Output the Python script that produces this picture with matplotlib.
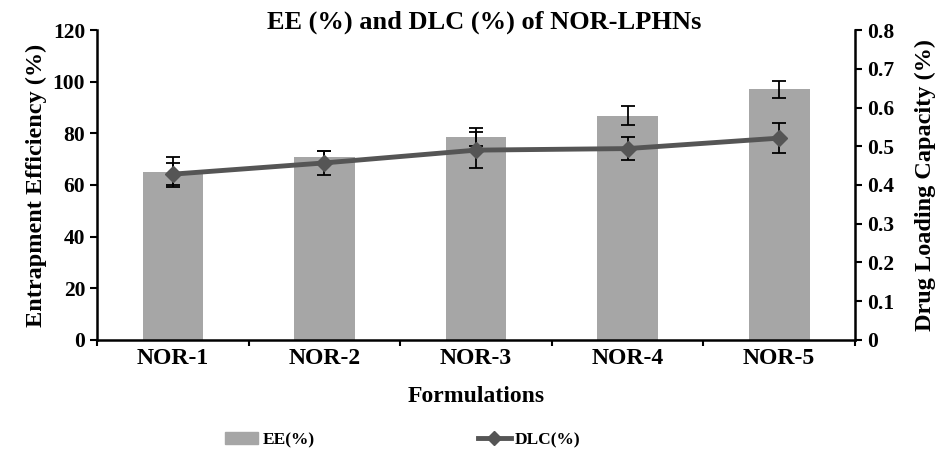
import matplotlib.pyplot as plt
import numpy as np
from matplotlib.lines import Line2D
from matplotlib.patches import Patch

plt.rcParams['font.family'] = ['Liberation Serif', 'DejaVu Serif']
plt.rcParams['font.weight'] = 'bold'

# data
formulations = ['NOR-1', 'NOR-2', 'NOR-3', 'NOR-4', 'NOR-5']
ee = [65.0, 71.0, 78.6, 86.8, 97.0]
ee_err = [5.8, 2.0, 3.5, 3.6, 3.3]
dlc = [0.428, 0.457, 0.490, 0.494, 0.521]
dlc_err = [0.028, 0.031, 0.046, 0.030, 0.039]

bar_color = '#A6A6A6'
line_color = '#555555'

fig = plt.figure(figsize=(9.43, 4.59), dpi=100)
ax = fig.add_axes([0.1029, 0.2593, 0.8038, 0.6753])
x = np.arange(len(formulations))

ax.bar(x, ee, width=0.4, color=bar_color, zorder=2)
ax.errorbar(x, ee, yerr=ee_err, fmt='none', ecolor='black', elinewidth=1.3,
            capsize=5, capthick=1.3, zorder=3)
ax.set_xlim(-0.5, 4.5)
ax.set_ylim(0, 120)
ax.set_yticks(range(0, 121, 20))
ax.set_xticks(x)
ax.set_xticks(np.arange(-0.5, 4.6, 1), minor=True)
ax.set_xticklabels(formulations, fontsize=17, fontweight='bold')
ax.tick_params(axis='y', labelsize=15.5, width=1.5, length=5)
ax.tick_params(axis='x', which='major', length=0, pad=6)
ax.tick_params(axis='x', which='minor', length=4, width=1.5)
ax.set_ylabel('Entrapment Efficiency (%)', fontsize=17.5, fontweight='bold', labelpad=4)
ax.set_xlabel('Formulations', fontsize=17, fontweight='bold', labelpad=12)
ax.spines['top'].set_visible(False)
ax.spines['right'].set_visible(False)
for s in ['left', 'bottom']:
    ax.spines[s].set_linewidth(1.8)
fig.text(484 / 943, 1 - 22 / 459, 'EE (%) and DLC (%) of NOR-LPHNs', fontsize=19,
         fontweight='bold', ha='center', va='center')

ax2 = ax.twinx()
ax2.errorbar(x, dlc, yerr=dlc_err, color=line_color, lw=3.5, marker='D', ms=8,
             ecolor='black', elinewidth=1.3, capsize=5, capthick=1.3, zorder=4)
ax2.set_ylim(0, 0.8)
ax2.set_yticks(np.arange(0, 0.81, 0.1))
ax2.set_yticklabels(['0', '0.1', '0.2', '0.3', '0.4', '0.5', '0.6', '0.7', '0.8'])
ax2.tick_params(axis='y', labelsize=15.5, width=1.5, length=5)
ax2.set_ylabel('Drug Loading Capacity (%)', fontsize=17.5, fontweight='bold', labelpad=15)
ax2.spines['top'].set_visible(False)
ax2.spines['left'].set_visible(False)
ax2.spines['bottom'].set_visible(False)
ax2.spines['right'].set_linewidth(1.8)

handles = [Patch(color=bar_color),
           Line2D([0], [0], color=line_color, lw=3.5, marker='D', ms=7)]
fig.legend(handles, ['EE(%)', 'DLC(%)'], loc='center left', bbox_to_anchor=(0.222, 1 - 440 / 459),
           ncol=2, frameon=False, fontsize=12.5, columnspacing=9.4, handlelength=1.9,
           handletextpad=0.25)

fig.savefig('out.png', dpi=100)
